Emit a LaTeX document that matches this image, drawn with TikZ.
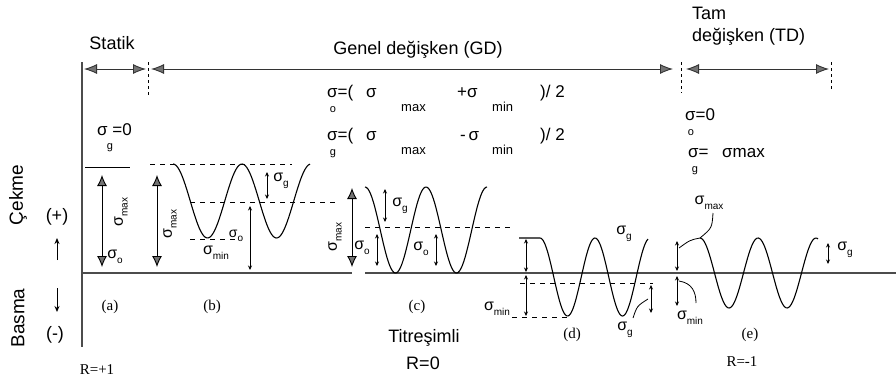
\documentclass[tikz,border=0pt]{standalone}
\usepackage{fontspec}
\setmainfont{Liberation Sans}
\newfontfamily\serifface{Liberation Serif}
\usetikzlibrary{arrows.meta}
\newcommand{\lowsub}[1]{\raisebox{-0.55ex}{\fontsize{10}{11}\selectfont #1}}
\tikzset{
  dimarrow/.style={line width=0.9pt, draw=black!80,
    {Latex[length=13pt,width=10pt,fill=black!55]}-{Latex[length=13pt,width=10pt,fill=black!55]}},
  ticked/.style={line width=0.9pt, dash pattern=on 3pt off 3pt},
  maxarrow/.style={line width=0.9pt,
    {Latex[length=11pt,width=10pt,fill=black!55]}-{Latex[length=11pt,width=10pt,fill=black!55]}},
  smallarrow/.style={line width=0.8pt, {Stealth[length=4.5pt,width=4pt]}-{Stealth[length=4.5pt,width=4pt]}},
  guide/.style={line width=0.8pt, dash pattern=on 5pt off 5pt},
  wave/.style={line width=1.1pt},
  axisline/.style={line width=1.4pt, draw=black!70},
  sans/.style={font=\fontsize{18}{20}\selectfont, inner sep=0pt},
  lab/.style={font=\serifface\fontsize{15}{17}\selectfont, inner sep=0pt},
  sig/.style={font=\fontsize{16}{18}\selectfont, inner sep=0pt},
  fsig/.style={font=\fontsize{17}{19}\selectfont, inner sep=0pt},
  subs/.style={font=\fontsize{11}{12}\selectfont, inner sep=0pt},
  fsubs/.style={font=\fontsize{13}{14}\selectfont, inner sep=0pt},
}
\begin{document}
\begin{tikzpicture}[x=1pt,y=-1pt]
\useasboundingbox[fill=white] (0,0) rectangle (896,386);

% axes
\coordinate (ax0) at (82,62);
\coordinate (ax1) at (82,347);
\draw[axisline] (ax0) -- (ax1);
\coordinate (h0) at (82,273);
\coordinate (h1) at (352,273);
\coordinate (h2) at (365,273);
\coordinate (h3) at (896,273);
\draw[axisline] (h0) -- (h1) (h2) -- (h3);

% top dimension arrows
\coordinate (d0) at (84,69);
\coordinate (d1) at (146,69);
\coordinate (d2) at (151,69);
\coordinate (d3) at (673,69);
\coordinate (d4) at (686,69);
\coordinate (d5) at (829,69);
\draw[dimarrow] (d0) -- (d1);
\draw[dimarrow] (d2) -- (d3);
\draw[dimarrow] (d4) -- (d5);
\coordinate (t1a) at (148.5,62); \coordinate (t1b) at (148.5,95);
\coordinate (t2a) at (681,62);   \coordinate (t2b) at (681,93);
\coordinate (t3a) at (831,62);   \coordinate (t3b) at (831,92);
\draw[ticked] (t1a) -- (t1b);
\draw[ticked] (t2a) -- (t2b);
\draw[ticked] (t3a) -- (t3b);

% headings
\node[sans] (statik) at (112,43) {Statik};
\node[sans] (gd) at (418,50) {Genel değişken (GD)};
\node[sans, anchor=west] (tam) at (692,13) {Tam};
\node[sans, anchor=west] (td) at (692,37) {değişken (TD)};

% left side
\node[sans, font=\fontsize{19}{20}\selectfont, rotate=90] (cekme) at (18,195) {Çekme};
\node[sans, font=\fontsize{19}{20}\selectfont, rotate=90] (basma) at (18,318) {Basma};
\node[sans] (plus) at (57,217) {(+)};
\node[sans] (minus) at (55,335) {(-)};
\coordinate (ua0) at (57,260); \coordinate (ua1) at (57,238);
\coordinate (da0) at (57,288); \coordinate (da1) at (57,312);
\draw[line width=1pt, -{Stealth[length=6pt,width=5pt]}] (ua0) -- (ua1);
\draw[line width=1pt, -{Stealth[length=6pt,width=5pt]}] (da0) -- (da1);

% formulas
\node[fsig, anchor=base west] (sg0) at (97,135) {σ =0};
\node[subs] (sg0s) at (110,148) {g};

\node[fsig, anchor=base west] (f1a) at (327,97) {σ=(};
\node[subs] (f1o) at (333,110) {o};
\node[fsig, anchor=base west] (f1b) at (366,97) {σ};
\node[fsubs, anchor=base west] (f1c) at (401,111) {max};
\node[fsig, anchor=base west] (f1d) at (457,97) {+σ};
\node[fsubs, anchor=base west] (f1e) at (492,111) {min};
\node[fsig, anchor=base west] (f1f) at (540,97) {)/ 2};

\node[fsig, anchor=base west] (f2a) at (327,140) {σ=(};
\node[subs] (f2g) at (333,154) {g};
\node[fsig, anchor=base west] (f2b) at (366,140) {σ};
\node[fsubs, anchor=base west] (f2c) at (401,154) {max};
\node[fsig, anchor=base west] (f2d) at (460,140) {-\,σ};
\node[fsubs, anchor=base west] (f2e) at (492,154) {min};
\node[fsig, anchor=base west] (f2f) at (540,140) {)/ 2};

\node[fsig, anchor=base west] (tf1) at (685,120) {σ=0};
\node[subs] (tf1s) at (691,133) {o};
\node[fsig, anchor=base west] (tf2) at (688,157) {σ=};
\node[fsig, anchor=base west] (tf2b) at (722,157) {σmax};
\node[subs] (tf2s) at (695,171) {g};

% (a) static
\coordinate (atop0) at (85,167); \coordinate (atop1) at (130,167);
\draw[line width=0.8pt] (atop0) -- (atop1);
\coordinate (a0) at (102,175); \coordinate (a1) at (102,267);
\draw[maxarrow] (a0) -- (a1);
\node[sig, rotate=90] (amax) at (121,212) {σ\lowsub{max}};
\node[sig] (ao) at (115,257) {σ\lowsub{o}};

% (b)
\coordinate (b0) at (157,175); \coordinate (b1) at (157,267);
\draw[maxarrow] (b0) -- (b1);
\node[sig, rotate=90] (bmax) at (170,224) {σ\lowsub{max}};
\draw[guide] (150,164) -- (292,164);
\draw[guide] (190,202) -- (338,202);
\draw[guide] (190,239) -- (240,239);
\draw[wave] plot[domain=173:310, samples=90] (\x,{201-37*cos((\x-173)/69*360)});
\coordinate (bg0) at (267,172); \coordinate (bg1) at (267,199);
\draw[smallarrow] (bg0) -- (bg1);
\node[sig] (bgl) at (281,181) {σ\lowsub{g}};
\coordinate (bo0) at (250,206); \coordinate (bo1) at (250,270);
\draw[smallarrow] (bo0) -- (bo1);
\node[sig, font=\fontsize{14}{15}\selectfont] (bol) at (236,236) {σ\lowsub{o}};
\node[sig] (bmin) at (216,253) {σ\lowsub{min}};

% (c)
\coordinate (c0) at (352,188); \coordinate (c1) at (352,267);
\draw[maxarrow] (c0) -- (c1);
\node[sig, rotate=90] (cmax) at (335,237) {σ\lowsub{max}};
\draw[guide] (365,227) -- (512,227);
\draw[wave] plot[domain=365:487, samples=90] (\x,{230-43*cos((\x-365)/61*360)});
\coordinate (cg0) at (385,189); \coordinate (cg1) at (385,222);
\draw[smallarrow] (cg0) -- (cg1);
\node[sig] (cgl) at (400,206) {σ\lowsub{g}};
\coordinate (co0) at (377,234); \coordinate (co1) at (377,266);
\draw[smallarrow] (co0) -- (co1);
\node[sig] (col) at (362,248) {σ\lowsub{o}};
\coordinate (cp0) at (436,234); \coordinate (cp1) at (436,266);
\draw[smallarrow] (cp0) -- (cp1);
\node[sig] (cpl) at (421,249) {σ\lowsub{o}};

% (d)
\draw[guide] (520,283) -- (653,283);
\draw[guide] (512,317) -- (567,317);
\coordinate (dw0) at (519,238); \coordinate (dw1) at (540,238);
\draw[wave] (dw0) -- (dw1) -- plot[domain=540:648, samples=90] (\x,{277-39*cos((\x-540)/55*360)});
\coordinate (dm0) at (526,239); \coordinate (dm1) at (526,272);
\coordinate (dn0) at (526,275); \coordinate (dn1) at (526,316);
\draw[smallarrow] (dm0) -- (dm1);
\draw[smallarrow] (dn0) -- (dn1);
\node[sig] (dmin) at (497,309) {σ\lowsub{min}};
\coordinate (dg0) at (651,285); \coordinate (dg1) at (651,313);
\draw[smallarrow] (dg0) -- (dg1);
\node[sig] (dgt) at (624,234) {σ\lowsub{g}};
\node[sig] (dgb) at (625,330) {σ\lowsub{g}};
\coordinate (dl0) at (633,318); \coordinate (dl1) at (648,299);
\draw[line width=0.8pt] (dl0) .. controls (637,306) .. (dl1);

% (e)
\draw[wave] plot[domain=700:818, samples=90] (\x,{273-35*cos((\x-700)/58*360)});
\coordinate (em0) at (677,241); \coordinate (em1) at (677,271);
\coordinate (en0) at (677,276); \coordinate (en1) at (677,306);
\draw[smallarrow] (em0) -- (em1);
\draw[smallarrow] (en0) -- (en1);
\node[sig] (emax) at (709,203) {σ\lowsub{max}};
\coordinate (el0) at (713,213); \coordinate (el1) at (700,238); \coordinate (el2) at (679,248);
\draw[line width=0.8pt] (el0) .. controls (712,228) .. (el1) .. controls (690,240) .. (el2);
\node[sig] (emin) at (690,318) {σ\lowsub{min}};
\coordinate (en2) at (679,281); \coordinate (en3) at (696,303);
\draw[line width=0.8pt] (en2) .. controls (692,283) and (696,292) .. (en3);
\coordinate (eg0) at (828,243); \coordinate (eg1) at (828,264);
\draw[smallarrow] (eg0) -- (eg1);
\node[sig] (egl) at (845,250) {σ\lowsub{g}};

% case labels
\node[lab] (la) at (110,307) {(a)};
\node[lab] (lb) at (212,307) {(b)};
\node[lab] (lc) at (417,307) {(c)};
\node[lab] (ld) at (572,335) {(d)};
\node[lab] (le) at (750,335) {(e)};
\node[lab] (r1) at (97,370) {R=+1};
\node[sans] (tit) at (424,338) {Titreşimli};
\node[sans] (r0) at (423,363) {R=0};
\node[lab] (r2) at (742,362) {R=-1};
\end{tikzpicture}
\end{document}
